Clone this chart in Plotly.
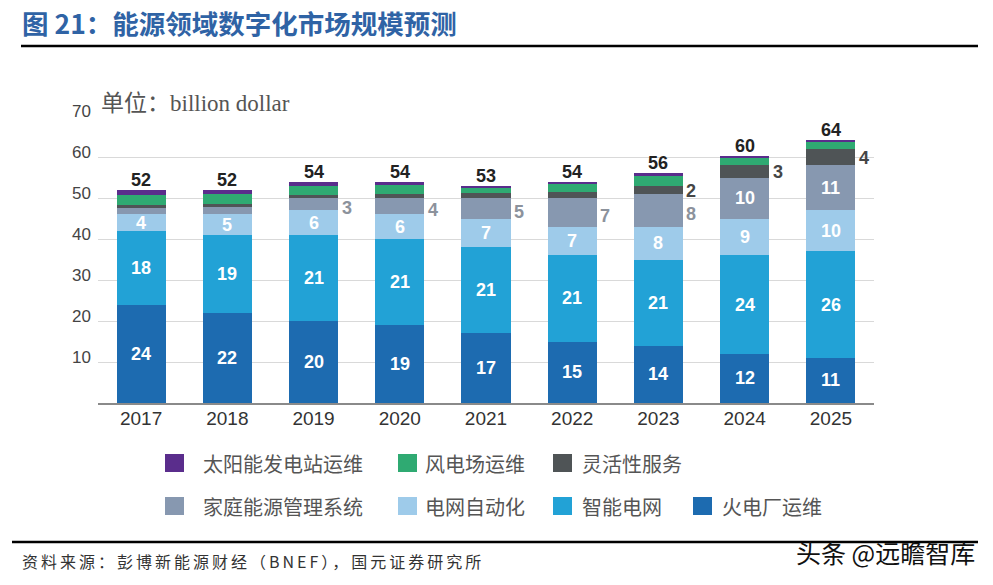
import plotly.graph_objects as go

# ---------------- data ----------------
years = ["2017", "2018", "2019", "2020", "2021", "2022", "2023", "2024", "2025"]
fire = [24, 22, 20, 19, 17, 15, 14, 12, 11]          # 火电厂运维
smart = [18, 19, 21, 21, 21, 21, 21, 24, 26]         # 智能电网
auto = [4, 5, 6, 6, 7, 7, 8, 9, 10]                  # 电网自动化
home = [1.5, 1.8, 3, 4, 5, 7, 8, 10, 11]             # 家庭能源管理系统
flex = [0.8, 0.7, 0.7, 1.0, 1.2, 1.4, 2, 3, 4]       # 灵活性服务
wind = [2.5, 2.4, 2.3, 2.1, 1.3, 1.9, 2.3, 1.7, 1.6] # 风电场运维
solar = [1.2, 1.1, 1.0, 0.9, 0.5, 0.7, 0.7, 0.6, 0.5]# 太阳能发电站运维
totals = [52, 52, 54, 54, 53, 54, 56, 60, 64]

series_names = ["火电厂运维", "智能电网", "电网自动化", "家庭能源管理系统",
                "灵活性服务", "风电场运维", "太阳能发电站运维"]
series_values = [fire, smart, auto, home, flex, wind, solar]
colors = ["#1d6bb0", "#22a2d6", "#9ecbea", "#8798b0", "#4f5456", "#2faa72", "#5a2d8c"]

y_ticks = [10, 20, 30, 40, 50, 60, 70]

# label rules
inside_labels = {0: "all", 1: "all", 2: "all", 3: ["2024", "2025"]}
outside_home = ["2019", "2020", "2021", "2022", "2023"]
outside_flex = ["2023", "2024", "2025"]

# ---------------- geometry helpers ----------------
W, H = 993, 585
L, R, T, B = 98, 119, 116, 182
PW, PH = W - L - R, H - T - B
def px(x):
    return (x - L) / PW
def py(y):
    return (H - B - y) / PH

SANS = "Arial, Liberation Sans, sans-serif"
CJK = "Noto Sans CJK SC, sans-serif"

fig = go.Figure()
for name, vals, col in zip(series_names, series_values, colors):
    fig.add_trace(go.Bar(x=years, y=vals, name=name, marker=dict(color=col, line=dict(width=0)),
                         hoverinfo="skip"))

annotations = []
# inside labels (x given as category index)
cum = [0.0] * len(years)
bottoms = []
for si, vals in enumerate(series_values):
    bottoms.append(cum[:])
    for i, v in enumerate(vals):
        rule = inside_labels.get(si)
        if rule is not None and (rule == "all" or years[i] in rule):
            annotations.append(dict(x=i, y=cum[i] + v / 2, xref="x", yref="y",
                                    text=f"{v:g}", showarrow=False,
                                    font=dict(family=SANS, size=18, color="white", weight="bold")))
        cum[i] += v

# outside labels: home / flex
for i, yr in enumerate(years):
    if yr in outside_home:
        v = home[i]
        annotations.append(dict(x=i, y=bottoms[3][i] + v / 2, xref="x", yref="y",
                                text=f"{v:g}", showarrow=False, xanchor="left", xshift=26, yshift=-4,
                                font=dict(family=SANS, size=18, color="#8c929c", weight="bold")))
    if yr in outside_flex:
        v = flex[i]
        annotations.append(dict(x=i, y=bottoms[4][i] + v / 2, xref="x", yref="y",
                                text=f"{v:g}", showarrow=False, xanchor="left", xshift=26, yshift=-1,
                                font=dict(family=SANS, size=18, color="#454545", weight="bold")))
# totals
for i, yr in enumerate(years):
    annotations.append(dict(x=i, y=cum[i], xref="x", yref="y", text=str(totals[i]),
                            showarrow=False, yanchor="bottom", yshift=-2,
                            font=dict(family=SANS, size=18, color="#222222", weight="bold")))

# unit label
annotations.append(dict(x=px(99), y=py(104), xref="paper", yref="paper", xanchor="left",
                        yanchor="middle", showarrow=False,
                        text="单位：billion dollar",
                        font=dict(family="Liberation Serif, DejaVu Serif, Noto Sans CJK SC, serif",
                                  size=23, color="#555555")))
# title
annotations.append(dict(x=px(20), y=py(22), xref="paper", yref="paper", xanchor="left",
                        yanchor="middle", showarrow=False,
                        text="图 21：能源领域数字化市场规模预测",
                        font=dict(family=CJK, size=26.5, color="#2f63a5", weight="bold")))
# footer
annotations.append(dict(x=px(20), y=py(561), xref="paper", yref="paper", xanchor="left",
                        yanchor="middle", showarrow=False,
                        text='<span style="letter-spacing:3px">资料来源：彭博新能源财经（BNEF），国元证券研究所</span>',
                        font=dict(family=CJK, size=16, color="#333333")))
annotations.append(dict(x=px(977), y=py(552), xref="paper", yref="paper", xanchor="right",
                        yanchor="middle", showarrow=False,
                        text="头条 @远瞻智库",
                        font=dict(family=CJK, size=25, color="#111111")))

shapes = [
    dict(type="line", xref="paper", yref="paper", x0=px(21), x1=px(978), y0=py(46), y1=py(46),
         line=dict(color="#000000", width=2.5)),
    dict(type="line", xref="paper", yref="paper", x0=px(12), x1=px(978), y0=py(542), y1=py(542),
         line=dict(color="#000000", width=2.5)),
]

# manual legend
legend_layout = [
    # (series index, square left px, text left px, row y px)
    (6, 165, 201, 463), (5, 398, 423, 463), (4, 553, 580, 463),
    (3, 165, 201, 506), (2, 398, 423, 506), (1, 553, 580, 506), (0, 693, 720, 506),
]
for si, sx, tx, ry in legend_layout:
    shapes.append(dict(type="rect", xref="paper", yref="paper", x0=px(sx), x1=px(sx + 19),
                       y0=py(ry + 9), y1=py(ry - 9), fillcolor=colors[si], line=dict(width=0)))
    annotations.append(dict(x=px(tx), y=py(ry), xref="paper", yref="paper", xanchor="left",
                            yanchor="middle", showarrow=False, text=series_names[si],
                            font=dict(family=CJK, size=20, color="#555555")))

fig.update_layout(
    width=W, height=H,
    margin=dict(l=L, r=R, t=T, b=B, pad=0),
    paper_bgcolor="white", plot_bgcolor="white",
    barmode="stack", bargap=0.43, showlegend=False,
    annotations=annotations, shapes=shapes,
    xaxis=dict(type="category", range=[-0.5, len(years) - 0.5], showline=True,
               linecolor="#8a8a8a", linewidth=2,
               ticks="", tickfont=dict(family=SANS, size=19, color="#333333"),
               ticklabelstandoff=-3, showgrid=False, fixedrange=True),
    yaxis=dict(range=[0, 70], tickvals=y_ticks, showgrid=True, gridcolor="#d9d9d9", gridwidth=1,
               zeroline=False, showline=False, ticks="",
               tickfont=dict(family=SANS, size=17, color="#444444"),
               ticklabelstandoff=6, ticklabelshift=-5, fixedrange=True),
)

fig.write_html("out.html", post_script="document.body.style.margin='0';",
               config={"displayModeBar": False})
